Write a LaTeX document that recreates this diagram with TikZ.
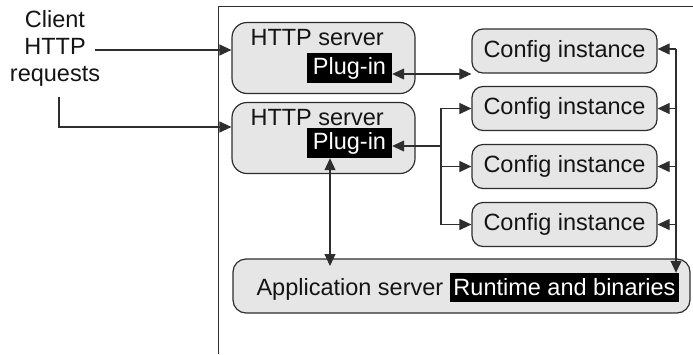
\documentclass[tikz,border=0pt]{standalone}
\usepackage{fontspec}
\setmainfont{Liberation Sans}
\usetikzlibrary{arrows.meta}
\definecolor{boxgray}{HTML}{E6E6E6}
\definecolor{linegray}{HTML}{2E2E2E}
\begin{document}
\begin{tikzpicture}[x=1pt, y=-1pt,
    every node/.style={font=\fontsize{23.5}{27}\selectfont, text=black!92},
    httpbox/.style={draw=linegray, fill=boxgray, rounded corners=15pt, line width=1.2pt, minimum width=183pt, minimum height=71pt},
    cfgbox/.style={draw=linegray, fill=boxgray, rounded corners=11pt, line width=1.2pt, minimum width=185pt, minimum height=44pt},
    appbox/.style={draw=linegray, fill=boxgray, rounded corners=13pt, line width=1.2pt, minimum width=457pt, minimum height=54pt},
    plugbox/.style={fill=black, text=white, inner sep=0pt, minimum height=30pt},
    arr/.style={draw=linegray, line width=1.1pt, -{Triangle[length=12pt, width=11pt]}},
    biarr/.style={draw=linegray, line width=1.1pt, {Triangle[length=12pt, width=11pt]}-{Triangle[length=12pt, width=11pt]}}]
  \useasboundingbox (0,0) rectangle (693,354);
  \draw [linegray, line width=1pt] (693,6) -- (218,6) -- (218,354);

  \node [align=center] (client) at (55,48) {Client\\HTTP\\requests};

  \node [httpbox] (http1) at (323.5,58) {};
  \node [anchor=base west] (srv1) at (247,45) {HTTP server};
  \node [plugbox, minimum width=85pt] (plug1) at (349.5,68) {Plug-in};

  \node [httpbox] (http2) at (323.5,138) {};
  \node [anchor=base west] (srv2) at (247,125) {HTTP server};
  \node [plugbox, minimum width=85pt] (plug2) at (349.5,143) {Plug-in};

  \node [cfgbox] (cfg1) at (564.5,51) {Config instance};
  \node [cfgbox] (cfg2) at (564.5,108.5) {Config instance};
  \node [cfgbox] (cfg3) at (564.5,166.5) {Config instance};
  \node [cfgbox] (cfg4) at (564.5,224.5) {Config instance};

  \node [appbox] (app) at (461.5,286) {};
  \node [anchor=base west] (appsrv) at (253,295) {Application server};
  \node [plugbox, minimum width=229pt, minimum height=29pt] (rt) at (564.5,287.5) {Runtime and binaries};

  \coordinate (req1) at (95,50);
  \coordinate (req2) at (59,97);
  \coordinate (split) at (441,146);
  \coordinate (bus) at (676,49);
  \coordinate (appin) at (330,266);

  \draw [arr] (req1) -- (req1 -| http1.west);
  \draw [arr] (req2) |- ([yshift=11pt]http2.west);

  \draw [biarr] ([yshift=-6pt]plug1.east) -- ([yshift=-6pt]plug1.east -| cfg1.west);

  \draw [arr] (split) -- ([yshift=-3pt]plug2.east);
  \draw [arr] (split) |- (cfg2.west);
  \draw [arr] (split) |- (cfg3.west);
  \draw [arr] (split) |- (cfg4.west);

  \draw [biarr] (plug2.south -| appin) -- (appin);

  \draw [arr] (bus) -- (bus |- rt.north);
  \draw [arr] (bus) -- (bus -| cfg1.east);
  \draw [arr] (bus |- cfg2.east) -- (cfg2.east);
  \draw [arr] (bus |- cfg3.east) -- (cfg3.east);
  \draw [arr] (bus |- cfg4.east) -- (cfg4.east);
\end{tikzpicture}
\end{document}
